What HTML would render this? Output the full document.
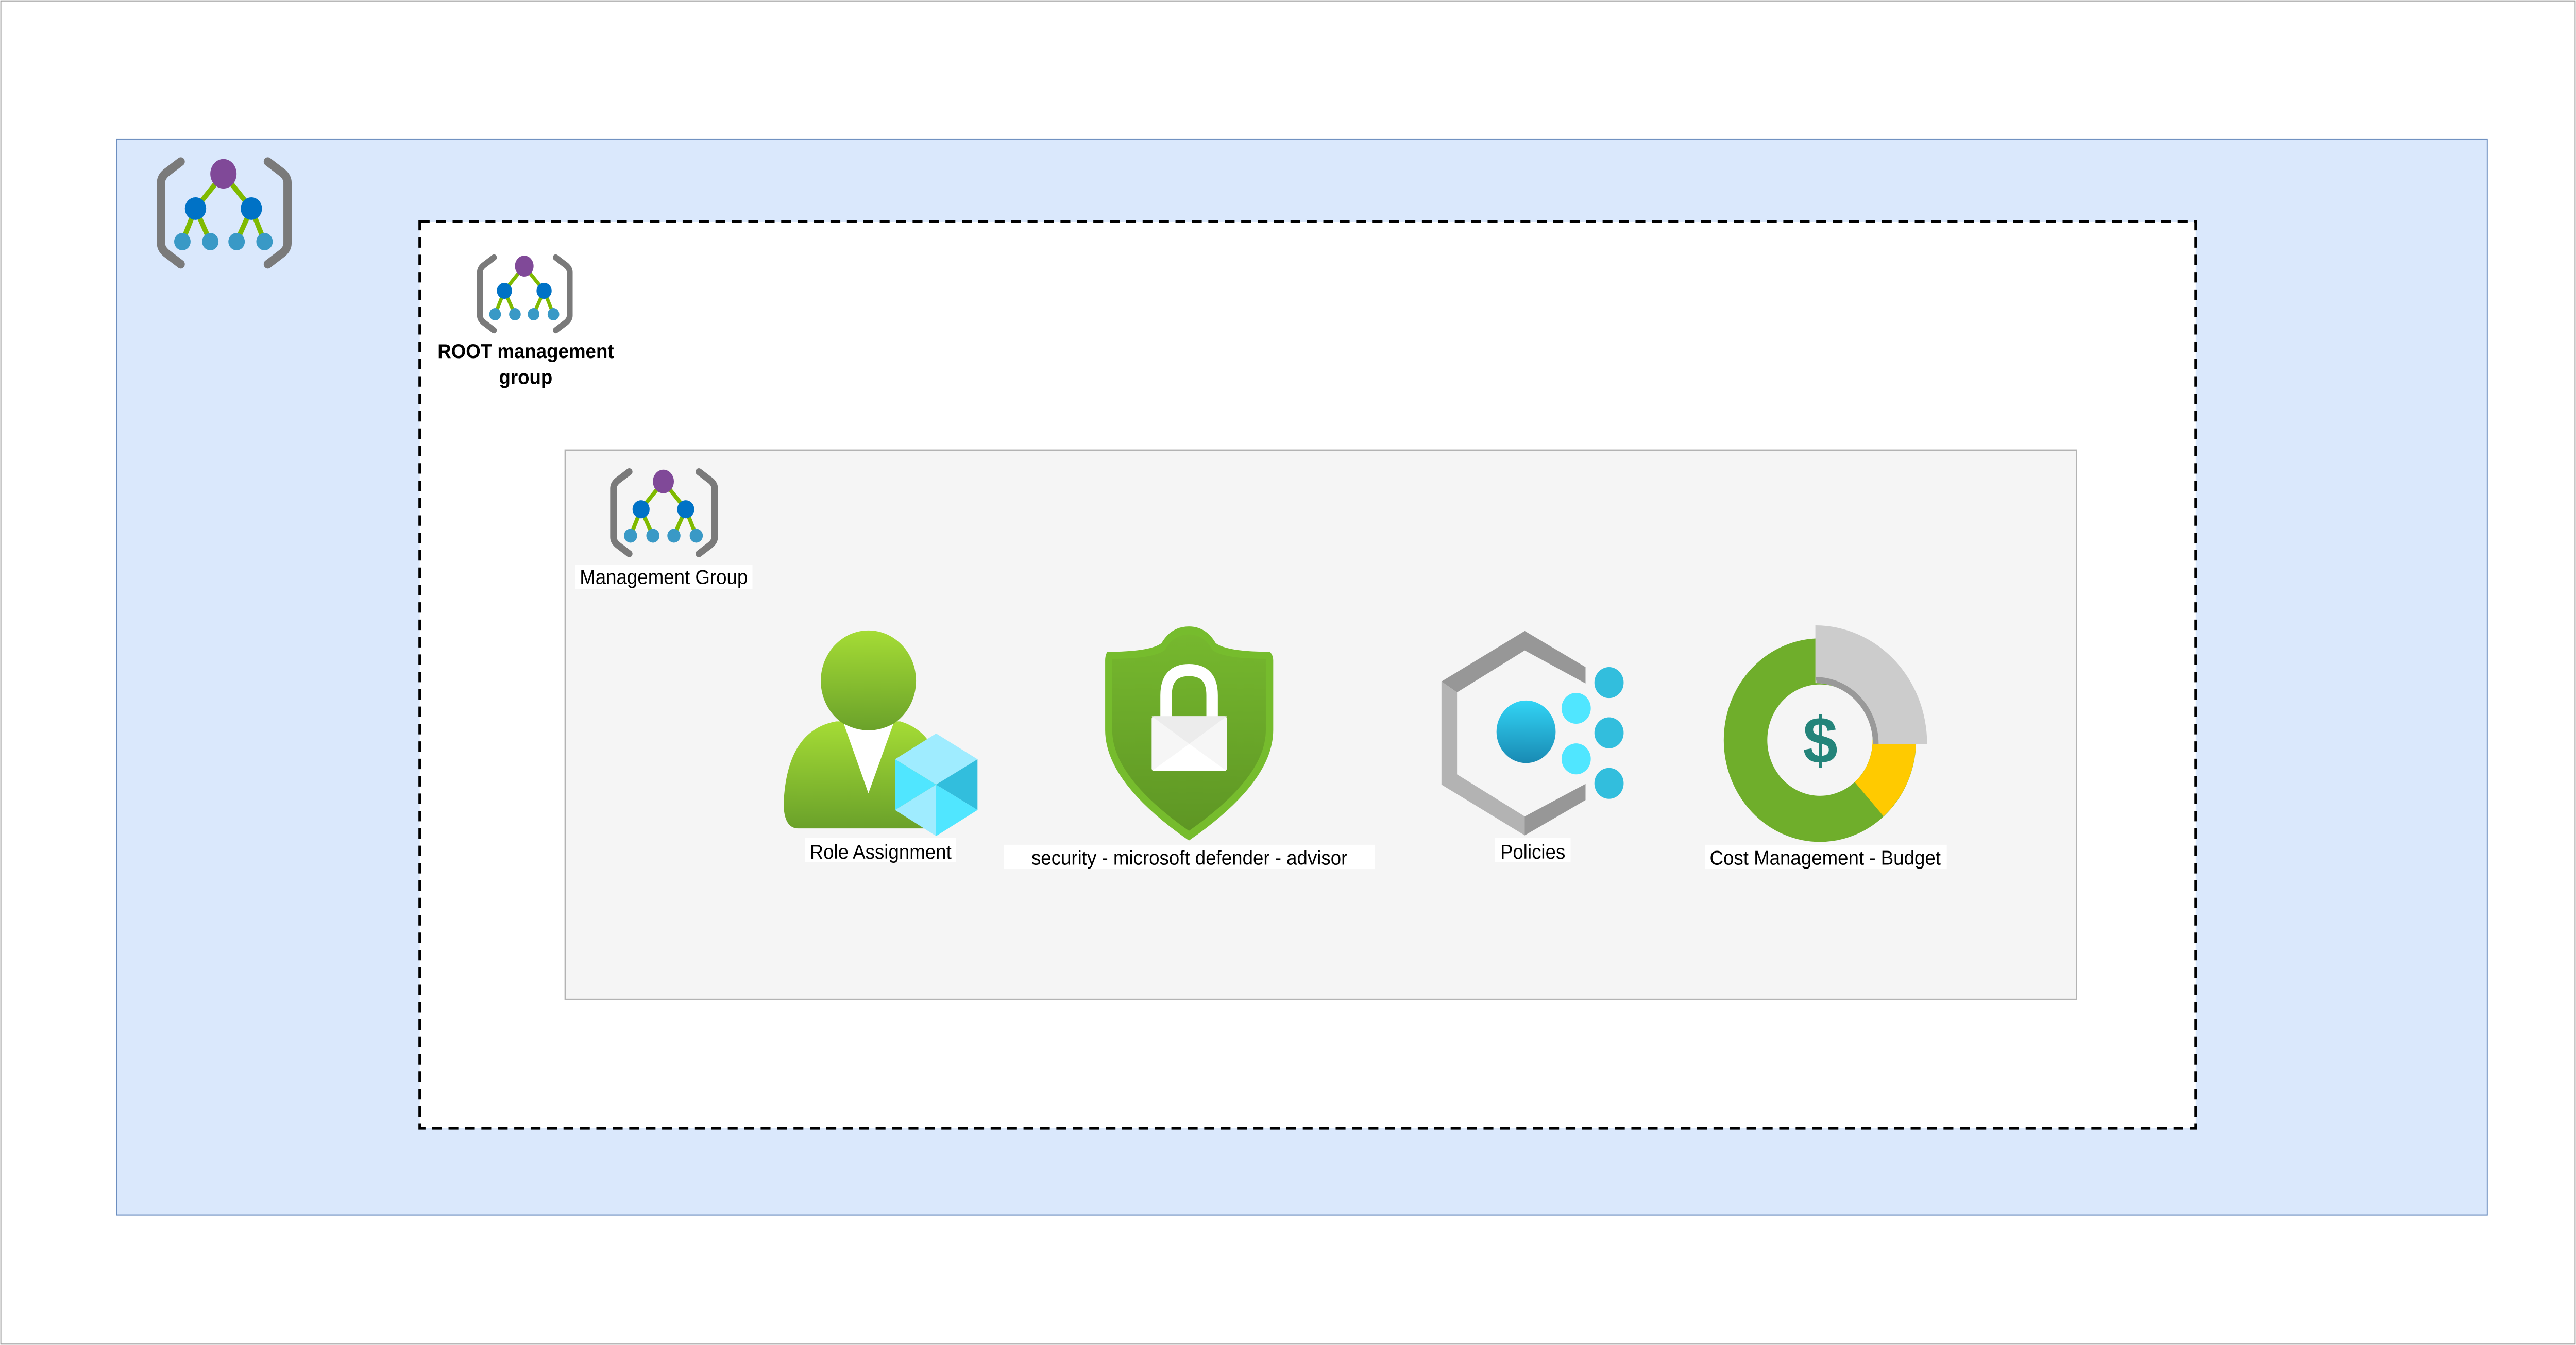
<!DOCTYPE html>
<html><head><meta charset="utf-8"><style>
html,body{margin:0;padding:0;background:#fff;width:100vw;height:100vh;overflow:hidden;}
svg{display:block;position:absolute;left:0;top:0;width:100vw;height:100vh;}
text{font-family:"Liberation Sans",Arial,sans-serif;}
</style></head><body>
<svg viewBox="0 0 1568 773.8" preserveAspectRatio="none" xmlns="http://www.w3.org/2000/svg">
<defs>
<g id="mg">
<path d="M15,3 L6,9.5 Q3,12 3,15 L3,50 Q3,53 6,55.5 L15,62" fill="none" stroke="#7a7a7a" stroke-width="5" stroke-linecap="round" stroke-linejoin="round"/>
<path d="M68,3 L77,9.5 Q80,12 80,15 L80,50 Q80,53 77,55.5 L68,62" fill="none" stroke="#7a7a7a" stroke-width="5" stroke-linecap="round" stroke-linejoin="round"/>
<g stroke="#7fba00" stroke-width="3">
<line x1="41" y1="10" x2="24" y2="30"/><line x1="41" y1="10" x2="58" y2="30"/>
<line x1="24" y1="30" x2="16" y2="49"/><line x1="24" y1="30" x2="33" y2="49"/>
<line x1="58" y1="30" x2="49" y2="49"/><line x1="58" y1="30" x2="66" y2="49"/>
</g>
<ellipse cx="41" cy="10" rx="8" ry="8.5" fill="#804998"/>
<ellipse cx="24" cy="30" rx="6.5" ry="6.5" fill="#0072c6"/>
<ellipse cx="58" cy="30" rx="6.5" ry="6.5" fill="#0072c6"/>
<ellipse cx="16" cy="49" rx="5" ry="5" fill="#3999c6"/>
<ellipse cx="33" cy="49" rx="5" ry="5" fill="#3999c6"/>
<ellipse cx="49" cy="49" rx="5" ry="5" fill="#3999c6"/>
<ellipse cx="66" cy="49" rx="5" ry="5" fill="#3999c6"/>
</g>
<linearGradient id="gg" x1="0" y1="0" x2="0" y2="1"><stop offset="0" stop-color="#a5dc35"/><stop offset="1" stop-color="#6aa12a"/></linearGradient>
<linearGradient id="sg" x1="0" y1="0" x2="0" y2="1"><stop offset="0" stop-color="#76b82e"/><stop offset="1" stop-color="#5e9624"/></linearGradient>
<linearGradient id="bg" x1="0" y1="0" x2="0" y2="1"><stop offset="0" stop-color="#32d4f5"/><stop offset="1" stop-color="#198ab3"/></linearGradient>
</defs>
<rect x="0.5" y="0.5" width="1567" height="772.8" fill="#fff" stroke="#9a9a9a" stroke-width="0.6"/>
<rect x="71" y="80" width="1443" height="619" fill="#dae8fc" stroke="#6c8ebf" stroke-width="0.6"/>
<use href="#mg" transform="translate(95,90)"/>
<rect x="255.5" y="127.5" width="1081" height="521.5" fill="#fff" stroke="#000" stroke-width="1.6" stroke-dasharray="6,4"/>
<use href="#mg" transform="translate(290,146) scale(0.71)"/>
<text x="320" y="206" font-size="11.5" font-weight="bold" text-anchor="middle">ROOT management</text>
<text x="320" y="221" font-size="11.5" font-weight="bold" text-anchor="middle">group</text>
<rect x="344" y="259" width="920" height="316" fill="#f5f5f5" stroke="#b3b3b3" stroke-width="0.8"/>
<use href="#mg" transform="translate(371,269) scale(0.8)"/>
<rect x="350" y="325" width="108" height="14" fill="#fff"/>
<text x="404" y="336" font-size="11.5" text-anchor="middle">Management Group</text>

<path d="M486,476.6 Q477,476.6 477,462 Q479,420 509,415 L548,415 Q566,420 572,440 L572,476.6 Z" fill="url(#gg)"/>
<ellipse cx="528.6" cy="391.7" rx="29" ry="29" fill="url(#gg)"/>
<path d="M513.6,416.4 Q528.6,424 543.8,416.4 L528.6,456.4 Z" fill="#fff"/>
<polygon points="544.8,436.8 569.8,422 595,436.8 569.8,451.4" fill="#9fecff"/>
<polygon points="544.8,436.8 569.8,451.4 544.8,466" fill="#50e6ff"/>
<polygon points="595,436.8 569.8,451.4 595,466" fill="#32bedd"/>
<polygon points="544.8,466 569.8,451.4 569.8,481" fill="#9fecff"/>
<polygon points="569.8,451.4 595,466 569.8,481" fill="#50e6ff"/>
<rect x="490" y="482" width="92" height="14" fill="#fff"/>
<text x="536" y="494" font-size="11.5" text-anchor="middle">Role Assignment</text>

<path d="M723.7,360.4 Q713,360.4 707,370 Q700,375 674,375 Q672.7,377 672.7,380 L672.7,420 Q672.7,450 723.7,483.6 Q775,450 775,420 L775,380 Q775,377 773,375 Q747,375 740,370 Q734,360.4 723.7,360.4 Z" fill="#76bc2d"/>
<path d="M723.7,365 Q714,365 709,374 Q702,379 677,379 L677,420 Q677,447 723.7,478 Q770.5,447 770.5,420 L770.5,379 Q745,379 738,374 Q733,365 723.7,365 Z" fill="url(#sg)"/>
<path d="M709.8,413 L709.8,400 Q709.8,385.5 723.7,385.5 Q737.8,385.5 737.8,400 L737.8,413" fill="none" stroke="#fff" stroke-width="7"/>
<rect x="701" y="412" width="45.8" height="31.6" rx="1.5" fill="#f6f6f6"/>
<polygon points="701,412 746.8,412 723.9,428" fill="#ececec"/>
<polygon points="701,443.6 746.8,443.6 723.9,428" fill="#fff"/>
<rect x="611" y="486" width="226" height="14" fill="#fff"/>
<text x="724" y="497.5" font-size="11.5" text-anchor="middle">security - microsoft defender - advisor</text>

<polygon points="877.4,392.1 928.1,363 965.1,383.8 965.1,393.2 928.1,374.2 886.9,398.3" fill="#979797"/>
<polygon points="877.4,392.1 886.9,398.3 886.9,445.5 928.1,469.7 928.1,480.6 877.4,451.4" fill="#b3b3b3"/>
<polygon points="928.1,469.7 965.1,451 965.1,460.3 928.1,480.6" fill="#979797"/>
<circle cx="928.9" cy="421" r="18" fill="url(#bg)"/>
<circle cx="959.4" cy="407.5" r="8.9" fill="#50e6ff"/>
<circle cx="959.4" cy="436.6" r="8.9" fill="#50e6ff"/>
<circle cx="979.4" cy="392.7" r="8.9" fill="#32bedd"/>
<circle cx="979.4" cy="421.6" r="8.9" fill="#32bedd"/>
<circle cx="979.4" cy="450.7" r="8.9" fill="#32bedd"/>
<rect x="910" y="482" width="46" height="14" fill="#fff"/>
<text x="933" y="494" font-size="11.5" text-anchor="middle">Policies</text>

<circle cx="1107.8" cy="425.8" r="45.3" fill="none" stroke="#6fae2b" stroke-width="26.5"/>
<path d="M1166.3,425.8 A58.5,58.5 0 0 1 1146.5,469.6 L1129,450 A32,32 0 0 0 1139.8,425.8 Z" fill="#ffca00"/>
<path d="M1105,359.8 A68,68 0 0 1 1173,428 L1140,428 A35,35 0 0 0 1105,393 Z" fill="#cccccc"/>
<path d="M1105,389.5 A38.5,38.5 0 0 1 1143.5,428 L1140,428 A35,35 0 0 0 1106,393 Z" fill="#999"/>
<text x="1108" y="439" font-size="38" font-weight="bold" fill="#24847a" text-anchor="middle">$</text>
<rect x="1038" y="486" width="147" height="14" fill="#fff"/>
<text x="1111" y="497.5" font-size="11.5" text-anchor="middle">Cost Management - Budget</text>
</svg>
</body></html>
